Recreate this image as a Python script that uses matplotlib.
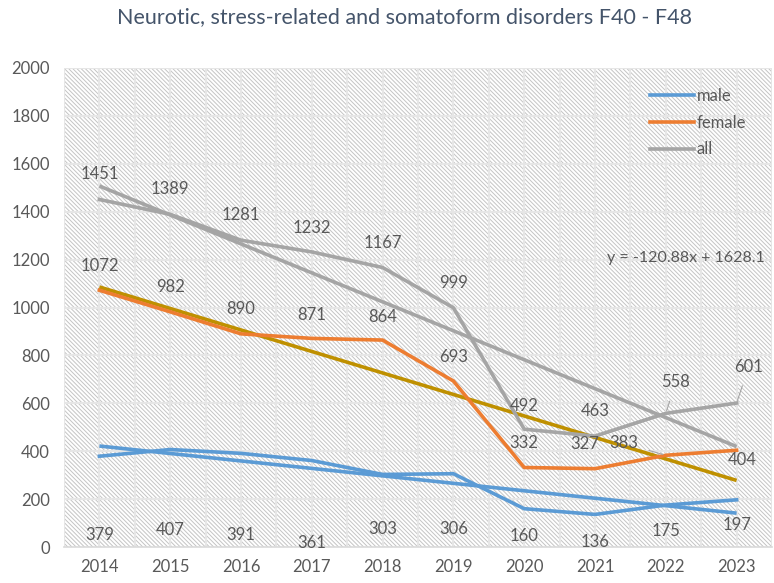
import numpy as np
import matplotlib
matplotlib.use("Agg")
import matplotlib.pyplot as plt
from matplotlib.patches import Rectangle

plt.rcParams['font.family'] = ['Lato', 'DejaVu Sans']
plt.rcParams['hatch.linewidth'] = 0.7
plt.rcParams['hatch.color'] = '#C4C4C4'

# data
years = ['2014', '2015', '2016', '2017', '2018', '2019', '2020', '2021', '2022', '2023']
male = [379, 407, 391, 361, 303, 306, 160, 136, 175, 197]
female = [1072, 982, 890, 871, 864, 693, 332, 327, 383, 404]
all_ = [1451, 1389, 1281, 1232, 1167, 999, 492, 463, 558, 601]

# label offsets in pixels (dx, dy), dy positive = up
male_off = [(0, -79), (0, -80), (0, -82), (0, -82), (0, -55), (0, -55), (0, -27), (0, -28), (0, -26), (0, -25)]
female_off = [(0, 24), (0, 25), (0, 25), (0, 23), (0, 23), (0, 24), (0, 24), (-10, 25), (-42, 12), (6, -10)]
all_off = [(0, 25), (0, 25), (0, 25), (0, 24), (0, 25), (0, 25), (0, 23), (0, 25), (10, 31), (12, 36)]
leaders = {('female', 8), ('all', 8), ('all', 9)}

c_male = '#5B9BD5'
c_female = '#ED7D31'
c_all = '#A5A5A5'
c_ftrend = '#BF9000'
txt = '#595959'

fig = plt.figure(figsize=(7.74, 5.83), dpi=100)
ax = fig.add_axes([64/774, 36/583, 708/774, 479/583])

x = np.arange(len(years))
ax.set_xlim(-0.5, len(years) - 0.5)
ax.set_ylim(0, 2000)

# hatched background
ax.add_patch(Rectangle((0, 0), 1, 1, transform=ax.transAxes, facecolor='white',
                       edgecolor='#C4C4C4', hatch='\\' * 8, linewidth=0, zorder=0))

# grid
for gx in np.arange(-0.5, len(years), 0.5):
    ax.axvline(gx, color='#E6E6E6', lw=1.5, zorder=1)
for gy in range(200, 2001, 200):
    ax.axhline(gy, color='#E6E6E6', lw=1.5, zorder=1)

lw = 2.6
# trendlines
xt = np.arange(1, len(years) + 1)
for vals, col in [(male, c_male), (female, c_ftrend), (all_, c_all)]:
    k, b = np.polyfit(xt, vals, 1)
    ax.plot(x, k * xt + b, color=col, lw=lw, zorder=2, solid_capstyle='butt')

ax.plot(x, male, color=c_male, lw=lw, label='male', zorder=3)
ax.plot(x, female, color=c_female, lw=lw, label='female', zorder=3)
ax.plot(x, all_, color=c_all, lw=lw, label='all', zorder=3)

for name, vals, offs in [('male', male, male_off), ('female', female, female_off), ('all', all_, all_off)]:
    for i, (v, (dx, dy)) in enumerate(zip(vals, offs)):
        if (name, i) in leaders:
            ax.annotate(str(v), xy=(i, v), xytext=(dx, dy), textcoords='offset pixels',
                        ha='center', va='center', fontsize=12, color=txt, zorder=5,
                        arrowprops=dict(arrowstyle='-', color='#A5A5A5', lw=0.8,
                                        shrinkA=6, shrinkB=2))
        else:
            ax.annotate(str(v), xy=(i, v), xytext=(dx, dy), textcoords='offset pixels',
                        ha='center', va='center', fontsize=12, color=txt, zorder=5)

ax.text(0.99, 0.603, 'y = -120.88x + 1628.1', transform=ax.transAxes, ha='right',
        va='center', fontsize=11.5, color=txt)

ax.set_xticks(x)
ax.set_xticklabels(years)
ax.set_yticks(range(0, 2001, 200))
ax.tick_params(axis='both', length=0, labelsize=12, labelcolor=txt)
ax.tick_params(axis='y', pad=10)
ax.tick_params(axis='x', pad=9)
for s in ['top', 'right', 'left']:
    ax.spines[s].set_visible(False)
ax.spines['bottom'].set_color('#D9D9D9')
ax.spines['bottom'].set_linewidth(1.2)

leg = ax.legend(loc='upper right', bbox_to_anchor=(0.985, 0.99), frameon=False,
                fontsize=12, labelcolor=txt, handlelength=2.6, handletextpad=0.2,
                labelspacing=0.65)

fig.text(0.522, 0.97, 'Neurotic, stress-related and somatoform disorders F40 - F48',
         ha='center', va='center', fontsize=15.5, color='#44546A')

fig.savefig('out.png', dpi=100)
